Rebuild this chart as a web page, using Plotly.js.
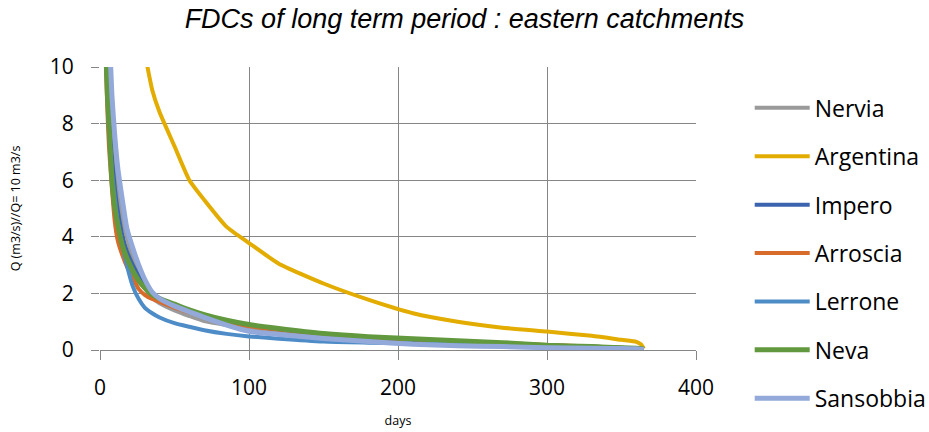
<!DOCTYPE html>
<html>
<head>
<meta charset="utf-8">
<script src="https://cdn.plot.ly/plotly-3.0.1.min.js"></script>
<style>html,body{margin:0;padding:0;background:#fff;}#chart{width:929px;height:432px;}</style>
</head>
<body>
<div id="chart"></div>
<script>
// common day grid
const days = [1,2,3,4,5,6,8,10,12,15,18,22,26,30,35,40,50,60,70,85,100,120,150,180,210,240,270,300,330,350,360,363,365];

const nervia    = [35,20,14,11.5,9.8,8.8,7.5,6.2,5.4,4.6,4.0,3.25,2.7,2.2,1.85,1.65,1.4,1.2,1.02,0.88,0.76,0.64,0.5,0.4,0.32,0.26,0.2,0.15,0.1,0.07,0.05,0.04,0.02];
const argentina = [60,45,38,33,29,27,23,20,18,16,14.5,12.8,11.5,10.5,9.2,8.4,7.2,6.0,5.3,4.35,3.78,3.05,2.35,1.78,1.3,1.0,0.79,0.65,0.5,0.36,0.29,0.2,0.05];
const impero    = [35,20,14,11.2,9.4,8.2,6.8,5.7,4.9,4.05,3.5,3.0,2.6,2.2,1.95,1.8,1.58,1.4,1.23,1.03,0.87,0.73,0.57,0.45,0.37,0.3,0.24,0.17,0.12,0.08,0.05,0.04,0.02];
const arroscia  = [30,17,12.5,10,8.4,7.2,5.7,4.5,3.85,3.35,2.95,2.55,2.15,1.95,1.8,1.7,1.5,1.33,1.18,1.0,0.85,0.72,0.57,0.46,0.38,0.31,0.25,0.18,0.12,0.08,0.05,0.04,0.02];
const lerrone   = [30,18,13,10.5,9.0,7.8,6.3,5.3,4.5,3.7,3.0,2.25,1.8,1.5,1.3,1.15,0.95,0.82,0.7,0.57,0.48,0.4,0.3,0.26,0.23,0.2,0.17,0.13,0.1,0.07,0.05,0.04,0.02];
const neva      = [30,18,13,10.5,9.0,8.0,6.0,5.0,4.4,3.7,3.25,2.8,2.45,2.2,1.95,1.82,1.62,1.42,1.25,1.05,0.9,0.76,0.58,0.47,0.4,0.33,0.26,0.17,0.12,0.08,0.06,0.05,0.03];
const sansobbia = [40,28,20,15.5,13,11.5,9.0,7.5,6.4,5.3,4.3,3.6,3.0,2.5,2.05,1.82,1.55,1.35,1.15,0.88,0.66,0.55,0.41,0.3,0.2,0.15,0.12,0.08,0.06,0.05,0.04,0.03,0.02];

const names  = ["Nervia","Argentina","Impero","Arroscia","Lerrone","Neva","Sansobbia"];
const series = [nervia, argentina, impero, arroscia, lerrone, neva, sansobbia];
const colors = ["#9A9A9A","#E3AC00","#3C64AE","#D86A2A","#4E8CC8","#62993E","#92A9DA"];
const widths = [4,4,4,4,4,5,5];

const FONT = "'Open Sans', Lato, sans-serif";

const traces = series.map((s,i)=>({
  x: days, y: s, name: names[i], type: "scatter", mode: "lines",
  line: {color: colors[i], width: widths[i], shape: "spline", smoothing: 0.5},
  legendgroup: "g"+i
}));

const layout = {
  width: 929, height: 432,
  margin: {l: 100, r: 233, t: 67, b: 82},
  paper_bgcolor: "#fff", plot_bgcolor: "#fff",
  font: {family: FONT, color: "#000"},
  title: {text: "FDCs of long term period : eastern catchments", x: 0.5, xref: "container", xanchor: "center",
          y: 0.958, yref: "container", yanchor: "middle",
          font: {family: "Liberation Sans, Arial, sans-serif", size: 27, style: "italic", color: "#000"}},
  xaxis: {range: [0,400], dtick: 100, tick0: 0, showgrid: true, gridcolor: "#868686", gridwidth: 1,
          zeroline: false, showline: false, ticks: "outside", ticklen: 9, tickcolor: "#868686",
          ticklabelstandoff: 10,
          tickfont: {size: 21, family: FONT}, fixedrange: true,
          title: {text: "days", font: {size: 12.5, family: FONT}, standoff: 16}},
  yaxis: {range: [0,10], dtick: 2, tick0: 0, showgrid: true, gridcolor: "#868686", gridwidth: 1,
          zeroline: true, zerolinecolor: "#868686", zerolinewidth: 1, showline: false,
          ticks: "outside", ticklen: 8, tickcolor: "#868686", ticklabelstandoff: 13,
          tickfont: {size: 21, family: FONT}, fixedrange: true,
          title: {text: "Q (m3/s)//Q= 10 m3/s", font: {size: 12.5, family: FONT}, standoff: 26}},
  showlegend: true,
  legend: {xref: "container", yref: "container", x: 0.807, xanchor: "left", y: 0.800, yanchor: "top",
           font: {size: 23, family: FONT}, maxheight: 420,
           tracegroupgap: 15.5, itemwidth: 55, bgcolor: "rgba(0,0,0,0)"}
};

Plotly.newPlot("chart", traces, layout, {staticPlot: true, displayModeBar: false});
</script>
</body>
</html>
